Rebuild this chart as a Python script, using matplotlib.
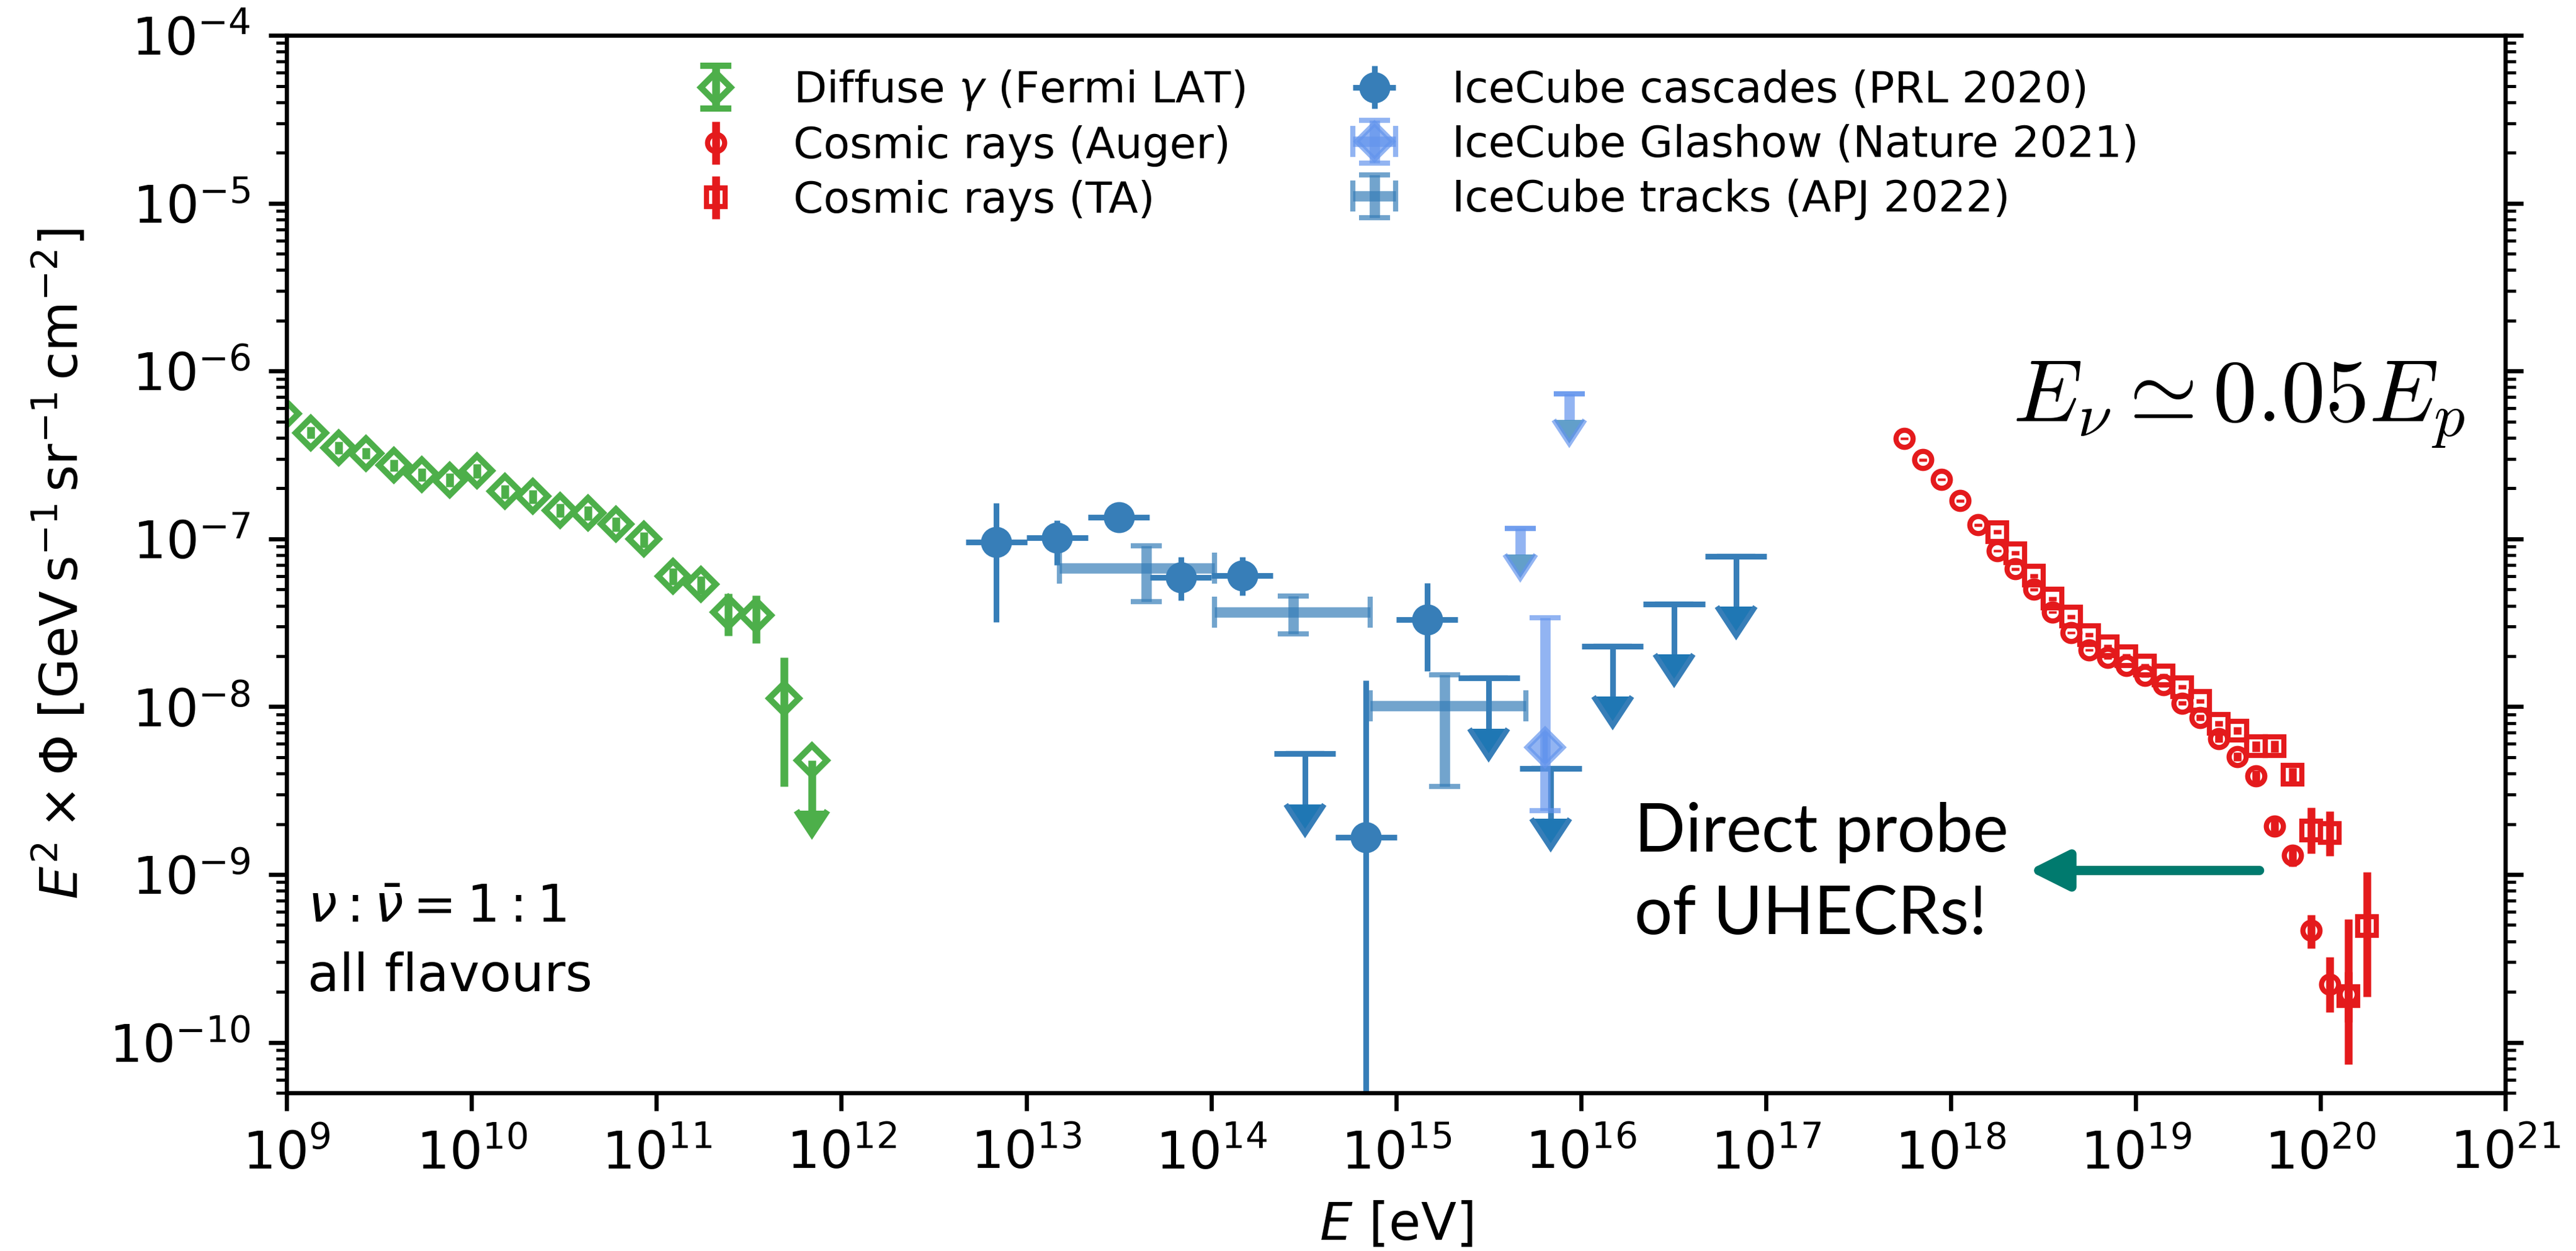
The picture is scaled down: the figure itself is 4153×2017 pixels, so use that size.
import numpy as np
import matplotlib
matplotlib.use('Agg')
import matplotlib.pyplot as plt
from matplotlib.ticker import LogLocator, NullLocator

# Fermi LAT diffuse gamma-ray background (last point is an upper limit)
fermi_e = np.array([9.6e8, 1.35e9, 1.91e9, 2.69e9, 3.80e9, 5.37e9, 7.59e9, 1.07e10,
                    1.51e10, 2.14e10, 3.02e10, 4.27e10, 6.03e10, 8.51e10, 1.23e11,
                    1.74e11, 2.45e11, 3.47e11, 4.90e11, 6.92e11])
fermi_flux = np.array([5.55e-7, 4.29e-7, 3.49e-7, 3.23e-7, 2.74e-7, 2.42e-7, 2.25e-7,
                       2.54e-7, 1.92e-7, 1.79e-7, 1.48e-7, 1.43e-7, 1.23e-7, 9.95e-8,
                       6.0e-8, 5.37e-8, 3.66e-8, 3.52e-8, 1.12e-8, 4.8e-9])
fermi_lo = np.array([5.0e-7, 3.95e-7, 3.20e-7, 3.0e-7, 2.52e-7, 2.20e-7, 2.04e-7,
                     2.30e-7, 1.74e-7, 1.62e-7, 1.34e-7, 1.29e-7, 1.11e-7, 8.9e-8,
                     5.3e-8, 4.7e-8, 2.65e-8, 2.39e-8, 3.34e-9, 2.4e-9])
fermi_hi = np.array([6.1e-7, 4.65e-7, 3.80e-7, 3.48e-7, 2.97e-7, 2.64e-7, 2.46e-7,
                     2.80e-7, 2.10e-7, 1.96e-7, 1.62e-7, 1.57e-7, 1.35e-7, 1.10e-7,
                     6.7e-8, 6.0e-8, 4.71e-8, 4.62e-8, 1.97e-8, 4.8e-9])
fermi_is_ul = np.array([False] * 19 + [True])

# Pierre Auger cosmic-ray spectrum (fractional errors)
auger_e = np.array([5.62e17, 7.08e17, 8.91e17, 1.12e18, 1.41e18, 1.78e18, 2.24e18,
                    2.82e18, 3.55e18, 4.47e18, 5.62e18, 7.08e18, 8.91e18, 1.12e19,
                    1.41e19, 1.78e19, 2.24e19, 2.82e19, 3.55e19, 4.47e19, 5.62e19,
                    7.08e19, 8.91e19, 1.12e20, 1.41e20])
auger_flux = np.array([3.96e-7, 2.96e-7, 2.26e-7, 1.69e-7, 1.21e-7, 8.49e-8, 6.61e-8,
                       5.0e-8, 3.66e-8, 2.76e-8, 2.18e-8, 1.96e-8, 1.76e-8, 1.53e-8,
                       1.35e-8, 1.05e-8, 8.61e-9, 6.46e-9, 5.04e-9, 3.87e-9, 1.95e-9,
                       1.30e-9, 4.65e-10, 2.22e-10, 1.94e-10])
auger_dlo = np.array([0.02] * 14 + [0.03, 0.03, 0.04, 0.05, 0.06, 0.08, 0.10, 0.14,
                                    0.22, 0.32, 0.62])
auger_dhi = np.array([0.02] * 14 + [0.03, 0.03, 0.04, 0.05, 0.06, 0.08, 0.10, 0.14,
                                    0.24, 0.45, 1.8])

# Telescope Array cosmic-ray spectrum (fractional errors)
ta_e = np.array([1.78e18, 2.24e18, 2.82e18, 3.55e18, 4.47e18, 5.62e18, 7.08e18,
                 8.91e18, 1.12e19, 1.41e19, 1.78e19, 2.24e19, 2.82e19, 3.55e19,
                 4.47e19, 5.62e19, 7.08e19, 8.91e19, 1.12e20, 1.41e20, 1.78e20])
ta_flux = np.array([1.10e-7, 8.22e-8, 6.03e-8, 4.41e-8, 3.44e-8, 2.68e-8, 2.29e-8,
                    2.0e-8, 1.76e-8, 1.53e-8, 1.31e-8, 1.08e-8, 7.94e-9, 7.23e-9,
                    5.81e-9, 5.81e-9, 3.92e-9, 1.83e-9, 1.77e-9, 1.88e-10, 4.94e-10])
ta_dlo = np.array([0.03] * 12 + [0.04, 0.05, 0.07, 0.08, 0.10, 0.27, 0.27, 0.30, 0.62])
ta_dhi = np.array([0.03] * 12 + [0.04, 0.05, 0.07, 0.08, 0.10, 0.37, 0.35, 0.40, 1.1])

# IceCube cascades, PRL 2020 (1/3-decade bins)
cascade_e = np.array([6.89e12, 1.47e13, 3.16e13, 6.85e13, 1.47e14, 6.89e14, 1.47e15])
cascade_flux = np.array([9.6e-8, 1.02e-7, 1.34e-7, 5.9e-8, 6.05e-8, 1.67e-9, 3.3e-8])
cascade_lo = np.array([3.18e-8, 7.0e-8, 1.22e-7, 4.3e-8, 4.6e-8, 1e-12, 1.63e-8])
cascade_hi = np.array([1.64e-7, 1.29e-7, 1.46e-7, 7.8e-8, 7.8e-8, 1.43e-8, 5.45e-8])
cascade_ul_e = np.array([3.21e14, 3.18e15, 6.85e15, 1.48e16, 3.19e16, 6.89e16])
cascade_ul = np.array([5.25e-9, 1.48e-8, 4.3e-9, 2.3e-8, 4.1e-8, 7.9e-8])
cascade_bin = 10 ** (1 / 6)

# IceCube Glashow resonance event, Nature 2021
glashow_e = np.array([6.4e15])
glashow_flux = np.array([5.7e-9])
glashow_lo = np.array([2.4e-9])
glashow_hi = np.array([3.4e-8])
glashow_ul_e = np.array([4.7e15, 8.65e15])
glashow_ul = np.array([1.15e-7, 7.3e-7])

# IceCube tracks, ApJ 2022
tracks_e = np.array([4.47e13, 2.79e14, 1.83e15])
tracks_e_lo = np.array([1.51e13, 1.04e14, 7.26e14])
tracks_e_hi = np.array([1.04e14, 7.26e14, 5.02e15])
tracks_flux = np.array([6.67e-8, 3.65e-8, 1.01e-8])
tracks_lo = np.array([4.24e-8, 2.72e-8, 3.36e-9])
tracks_hi = np.array([9.12e-8, 4.58e-8, 1.55e-8])

green = '#4daf4a'
red = '#e41a1c'
blue = '#377eb8'
light = 'cornflowerblue'
teal = '#007a6e'

fig = plt.figure(figsize=(4153 / 600, 2017 / 600), dpi=600)
ax = fig.add_axes([0.1113, 0.1264, 0.8613, 0.8453])

ax.errorbar(fermi_e, fermi_flux, yerr=[fermi_flux - fermi_lo, fermi_hi - fermi_flux],
            uplims=fermi_is_ul, fmt='D', ms=4, mfc='none', mew=1.2, color=green,
            label=r'Diffuse $\gamma$ (Fermi LAT)')

ax.errorbar(auger_e, auger_flux, yerr=[auger_flux * auger_dlo, auger_flux * auger_dhi],
            fmt='o', ms=3.3, mfc='none', mew=1, color=red, label='Cosmic rays (Auger)')
ax.errorbar(ta_e, ta_flux, yerr=[ta_flux * ta_dlo, ta_flux * ta_dhi],
            fmt='s', ms=3.7, mfc='none', mew=1, color=red, label='Cosmic rays (TA)')

ax.errorbar(cascade_e, cascade_flux,
            xerr=[cascade_e - cascade_e / cascade_bin, cascade_e * cascade_bin - cascade_e],
            yerr=[cascade_flux - cascade_lo, cascade_hi - cascade_flux],
            fmt='o', ms=5, color=blue, elinewidth=1.1, label='IceCube cascades (PRL 2020)')
ax.errorbar(cascade_ul_e, cascade_ul,
            xerr=[cascade_ul_e - cascade_ul_e / cascade_bin, cascade_ul_e * cascade_bin - cascade_ul_e],
            fmt='none', ecolor=blue, elinewidth=1.1)
ax.errorbar(cascade_ul_e, cascade_ul, yerr=0.5 * cascade_ul, uplims=True,
            fmt='none', ecolor=blue, elinewidth=1.1, capsize=3.75)

ax.errorbar(glashow_e, glashow_flux, xerr=np.zeros(1),
            yerr=[glashow_flux - glashow_lo, glashow_hi - glashow_flux],
            fmt='D', ms=5, color=light, alpha=0.7, elinewidth=2, capsize=3,
            label='IceCube Glashow (Nature 2021)')
ax.errorbar(glashow_ul_e, glashow_ul, yerr=0.3 * glashow_ul, uplims=True,
            fmt='none', ecolor=light, alpha=0.7, elinewidth=2, capsize=3)
ax.plot(glashow_ul_e, glashow_ul, ls='none', marker='_', ms=6, mew=1, color=light, alpha=0.7)

ax.errorbar(tracks_e, tracks_flux, xerr=[tracks_e - tracks_e_lo, tracks_e_hi - tracks_e],
            yerr=[tracks_flux - tracks_lo, tracks_hi - tracks_flux],
            fmt='none', ecolor=blue, alpha=0.7, elinewidth=2, capsize=3,
            label='IceCube tracks (APJ 2022)')

ax.set_xscale('log')
ax.set_yscale('log')
ax.set_xlim(1e9, 1e21)
ax.set_ylim(5e-11, 1e-4)
ax.xaxis.set_major_locator(LogLocator(base=10, numticks=20))
ax.xaxis.set_minor_locator(NullLocator())
ax.tick_params(axis='y', which='both', right=True)

ax.set_xlabel(r'$E$ [eV]')
ax.set_ylabel(r'$E^2 \times \Phi$ [GeV$\,$s$^{-1}\,$sr$^{-1}\,$cm$^{-2}$]')

ax.legend(ncol=2, loc='upper left', bbox_to_anchor=(0.1663, 0.9853), borderaxespad=0,
          frameon=False, fontsize=8.33, labelspacing=0.3, columnspacing=2.0)

ax.text(0.0095, 0.1615, r'$\nu : \bar{\nu} = 1:1$', transform=ax.transAxes,
        ha='left', va='baseline')
ax.text(0.0095, 0.0960, 'all flavours', transform=ax.transAxes, ha='left', va='baseline')

ax.text(6.05e20, 5.03e-7, r'$E_\nu \simeq 0.05 E_p$', fontsize=17, math_fontfamily='cm',
        ha='right', va='baseline')

ax.text(1.95e16, 1.37e-9, 'Direct probe', family='Lato', fontsize=13, ha='left', va='baseline')
ax.text(1.95e16, 4.41e-10, 'of UHECRs!', family='Lato', fontsize=13, ha='left', va='baseline')
ax.annotate('', xy=(2.63e18, 1.057e-9), xytext=(4.68e19, 1.057e-9),
            arrowprops=dict(arrowstyle='-|>', color=teal, lw=1.8, mutation_scale=16,
                            shrinkA=0, shrinkB=0))

fig.savefig('out.png', dpi=600)
